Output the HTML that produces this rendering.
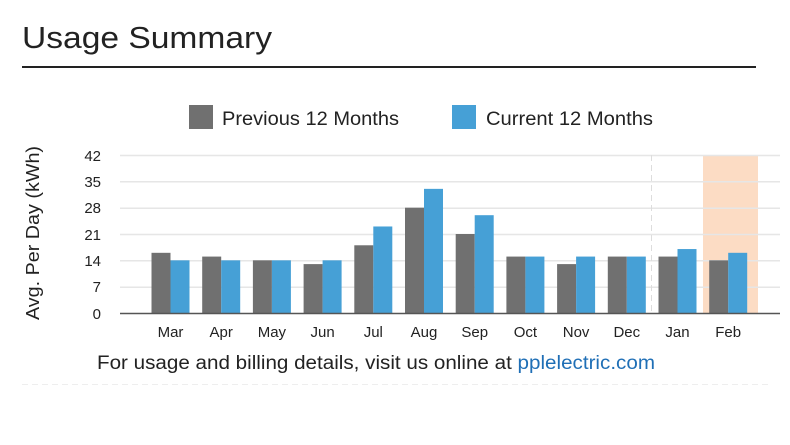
<!DOCTYPE html>
<html><head><meta charset="utf-8"><style>
body{margin:0;background:#fff;width:790px;height:440px;overflow:hidden;font-family:"Liberation Sans",sans-serif;}
</style></head><body>
<svg width="790" height="440" xmlns="http://www.w3.org/2000/svg" font-family="Liberation Sans, sans-serif">
<text x="22" y="48" font-size="31" fill="#222" textLength="250" lengthAdjust="spacingAndGlyphs">Usage Summary</text>
<rect x="22" y="66" width="734" height="2" fill="#222"/>
<rect x="189" y="105" width="24" height="24" fill="#707070"/>
<text x="222" y="125" font-size="19" fill="#222" textLength="177" lengthAdjust="spacingAndGlyphs">Previous 12 Months</text>
<rect x="452" y="105" width="24" height="24" fill="#46a0d6"/>
<text x="486" y="125" font-size="19" fill="#222" textLength="167" lengthAdjust="spacingAndGlyphs">Current 12 Months</text>
<rect x="703" y="155" width="55" height="158" fill="#fcdcc4"/>
<g stroke="#e6e6e6" stroke-width="1.5">
<line x1="120" x2="780" y1="155.5" y2="155.5"/><line x1="120" x2="780" y1="181.8" y2="181.8"/><line x1="120" x2="780" y1="208.2" y2="208.2"/><line x1="120" x2="780" y1="234.5" y2="234.5"/><line x1="120" x2="780" y1="260.8" y2="260.8"/><line x1="120" x2="780" y1="287.2" y2="287.2"/>
</g>
<line x1="651.5" x2="651.5" y1="155" y2="313" stroke="#ddd" stroke-dasharray="6,4"/>
<g font-size="15" fill="#222" text-anchor="end">
<text x="101" y="161">42</text><text x="101" y="187">35</text><text x="101" y="213">28</text><text x="101" y="240">21</text><text x="101" y="266">14</text><text x="101" y="292">7</text><text x="101" y="319">0</text>
</g>
<text transform="translate(39,233) rotate(-90)" font-size="18" fill="#222" text-anchor="middle" textLength="174" lengthAdjust="spacingAndGlyphs">Avg. Per Day (kWh)</text>
<g id="bars"></g>
<line x1="120" x2="780" y1="313.5" y2="313.5" stroke="#555" stroke-width="1.5"/>
<g id="labels" font-size="15" fill="#222" text-anchor="middle"></g>
<text x="97" y="369" font-size="19" fill="#222" textLength="558" lengthAdjust="spacingAndGlyphs">For usage and billing details, visit us online at <tspan fill="#1f6fb6">pplelectric.com</tspan></text>
<line x1="22" x2="770" y1="384.5" y2="384.5" stroke="#eee" stroke-dasharray="6,4"/>
<script>
var m=["Mar","Apr","May","Jun","Jul","Aug","Sep","Oct","Nov","Dec","Jan","Feb"];
var p=[16,15,14,13,18,28,21,15,13,15,15,14],c=[14,14,14,14,23,33,26,15,15,15,17,16];
var b=document.getElementById("bars"),l=document.getElementById("labels"),ns="http://www.w3.org/2000/svg",k=158/42;
for(var i=0;i<12;i++){var cx=170.5+i*50.7;
[[p[i],cx-19,"#707070"],[c[i],cx,"#46a0d6"]].forEach(function(d){var r=document.createElementNS(ns,"rect");var h=d[0]*k;r.setAttribute("x",d[1]);r.setAttribute("y",313-h);r.setAttribute("width",19);r.setAttribute("height",h);r.setAttribute("fill",d[2]);b.appendChild(r);});
var t=document.createElementNS(ns,"text");t.setAttribute("x",cx);t.setAttribute("y",337);t.textContent=m[i];l.appendChild(t);}
</script>
</svg>
</body></html>
